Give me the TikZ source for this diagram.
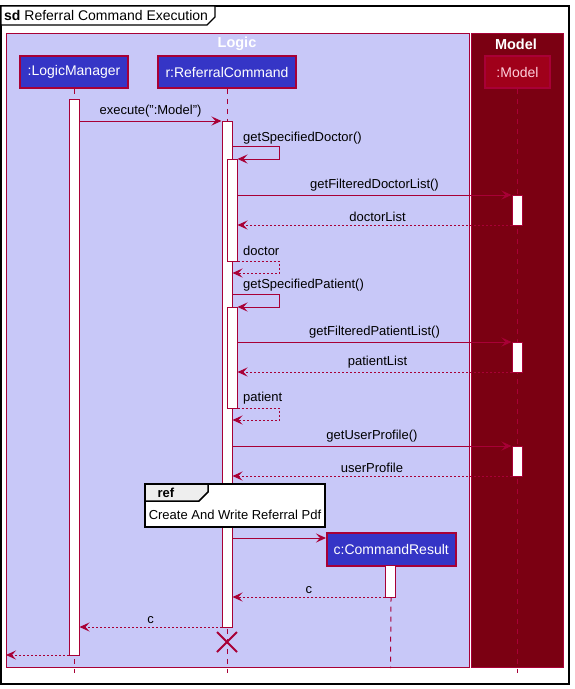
\documentclass[tikz,border=0pt]{standalone}
\usepackage{fontspec}
\setmainfont{Liberation Sans}
\usetikzlibrary{arrows.meta}
\definecolor{crim}{HTML}{A80036}
\definecolor{logicbg}{HTML}{C8C8F8}
\definecolor{modelbg}{HTML}{7B0012}
\definecolor{partbg}{HTML}{3535C6}
\definecolor{modelpart}{HTML}{A0001A}
\definecolor{modeltxt}{HTML}{FFD0DC}
\definecolor{tabgray}{HTML}{EEEEEE}
\tikzset{
  part/.style={draw=crim, line width=1.5pt, fill=partbg, text=white, minimum height=32pt, inner sep=0pt, font=\fontsize{14}{16}\selectfont},
  actbar/.style={draw=crim, line width=1pt, fill=white, minimum width=10pt, inner sep=0pt},
  life/.style={draw=crim, line width=1pt, dash pattern=on 5pt off 5pt},
  msg/.style={draw=crim, line width=1pt, -{Stealth[length=10pt,width=9pt,inset=4pt]}},
  ret/.style={msg, dash pattern=on 2pt off 2pt},
  lbl/.style={font=\fontsize{13}{15}\selectfont, text=black, inner sep=1pt},
  grp/.style={font=\bfseries\fontsize{14.5}{16}\selectfont, text=white}
}
\begin{document}
\begin{tikzpicture}[x=1pt,y=-1pt]
\useasboundingbox (0,0) rectangle (574,689);
\fill[white] (0,0) rectangle (574,689);
% outer sd frame
\draw[black, line width=1.2pt] (1,6) rectangle (569,684);
\draw[black, line width=1.2pt, fill=white] (1,6) -- (215,6) -- (215,17) -- (207,25) -- (1,25) -- cycle;
\node[anchor=west, inner sep=0pt, font=\fontsize{14}{16}\selectfont] (title) at (4,15.5) {\textbf{sd} Referral Command Execution};
% boxes
\draw[crim, line width=1pt, fill=logicbg] (6,33) rectangle (469,667);
\draw[crim, line width=1pt, fill=modelbg] (471,33) rectangle (563,667);
\node[grp] (glogic) at (237,44) {Logic};
\node[grp] (gmodel) at (516,44) {Model};
% participants
\node[part, minimum width=108pt] (lm) at (74,72) {:LogicManager};
\node[part, minimum width=138pt] (rc) at (227,72) {r:ReferralCommand};
\node[part, minimum width=65pt, fill=modelpart, text=modeltxt] (md) at (517.5,72) {:Model};
% lifelines
\coordinate (lmend) at (74,673);
\coordinate (rcend) at (227,673);
\coordinate (mdend) at (517.5,673);
\draw[life] (lm.south) -- (lmend);
\draw[life] (rc.south) -- (rcend);
\draw[life] (md.south) -- (mdend);
% activation bars
\node[actbar, minimum height=556pt] (lmA) at (74,377) {};
\node[actbar, minimum height=506pt] (rcA) at (227,374) {};
\node[actbar, minimum height=102pt] (rcB) at (232,210) {};
\node[actbar, minimum height=101pt] (rcC) at (232,357.5) {};
\node[actbar, minimum height=30pt] (mA) at (517,210) {};
\node[actbar, minimum height=30pt] (mB) at (517,357) {};
\node[actbar, minimum height=30pt] (mC) at (517,461) {};
% messages
\draw[msg] (lmA.east |- 0,121) -- node[lbl, above=2pt] (l1) {execute(":Model")} (rcA.west |- 0,121);
\draw[msg] (rcA.east |- 0,146) -- (279,146) -- (279,159) -- (rcB.east |- 0,159);
\node[lbl, anchor=west] (l2) at (242,138) {getSpecifiedDoctor()};
\draw[msg] (rcB.east |- 0,195) -- node[lbl, above=2pt] (l3) {getFilteredDoctorList()} (mA.west |- 0,195);
\draw[ret] (mA.west |- 0,225) -- node[lbl, above=2pt, xshift=3pt] (l4) {doctorList} (rcB.east |- 0,225);
\draw[ret] (rcB.east |- 0,261) -- (279,261) -- (279,273) -- (rcA.east |- 0,273);
\node[lbl, anchor=west] (l5) at (242,251) {doctor};
\draw[msg] (rcA.east |- 0,294) -- (279,294) -- (279,307) -- (rcC.east |- 0,307);
\node[lbl, anchor=west] (l6) at (242,285) {getSpecifiedPatient()};
\draw[msg] (rcC.east |- 0,342) -- node[lbl, above=2pt] (l7) {getFilteredPatientList()} (mB.west |- 0,342);
\draw[ret] (mB.west |- 0,372) -- node[lbl, above=2pt, xshift=3pt] (l8) {patientList} (rcC.east |- 0,372);
\draw[ret] (rcC.east |- 0,408) -- (279,408) -- (279,420) -- (rcA.east |- 0,420);
\node[lbl, anchor=west] (l9) at (242,398) {patient};
\draw[msg] (rcA.east |- 0,446) -- node[lbl, above=2pt] (l10) {getUserProfile()} (mC.west |- 0,446);
\draw[ret] (mC.west |- 0,476) -- node[lbl, above=2pt] (l11) {userProfile} (rcA.east |- 0,476);
% ref frame
\draw[black, line width=1.5pt, fill=white] (145,484) rectangle (325,527);
\draw[black, line width=1.5pt, fill=tabgray] (145,484) -- (208,484) -- (208,492) -- (199,501) -- (145,501) -- cycle;
\node[font=\bfseries\fontsize{13}{15}\selectfont] (reft) at (166,493) {ref};
\node[lbl] (refb) at (235,515) {Create And Write Referral Pdf};
% command result
\node[part, minimum width=129pt, minimum height=33pt, anchor=north west] (cr) at (326,532) {c:CommandResult};
\coordinate (crend) at (390.5,668);
\draw[life] (cr.south) -- (crend);
\node[actbar, minimum height=32pt] (crA) at (390.5,581) {};
\draw[msg] (rcA.east |- 0,538) -- (cr.west |- 0,538);
\draw[ret] (crA.west |- 0,597) -- node[lbl, above=2pt] (l12) {c} (rcA.east |- 0,597);
\draw[ret] (rcA.west |- 0,627) -- node[lbl, above=2pt] (l13) {c} (lmA.east |- 0,627);
% destroy
\draw[crim, line width=2pt] (217,632) -- (237,652) (217,652) -- (237,632);
% final return
\coordinate (lft) at (6,655);
\draw[ret] (lmA.west |- 0,655) -- (lft);
\end{tikzpicture}
\end{document}
